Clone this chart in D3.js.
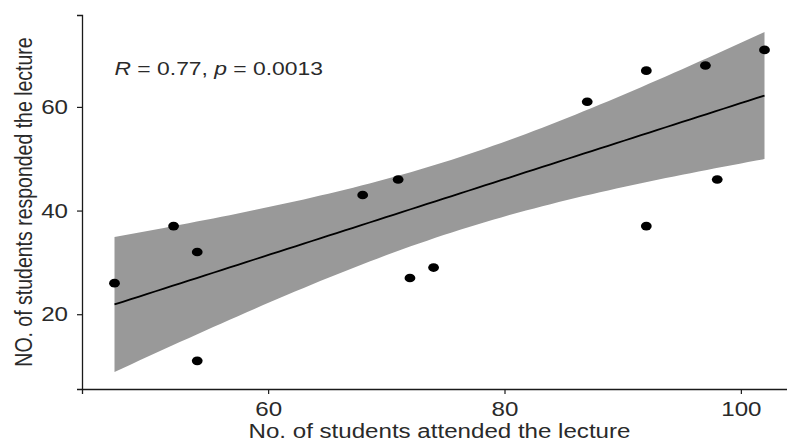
<!DOCTYPE html>
<html>
<head>
<meta charset="utf-8">
<script src="https://cdn.jsdelivr.net/npm/d3@7"></script>
<style>
  html, body { margin: 0; padding: 0; background: #fff; }
  svg { display: block; }
  text { font-family: "Liberation Sans", Arial, Helvetica, sans-serif; }
</style>
</head>
<body>
<svg id="chart" width="787" height="444"></svg>
<script>
// Lecture attendance vs. responses, one point per lecture
const attended  = [47, 52, 54, 54, 68, 71, 72, 74, 87, 92, 92, 97, 98, 102];
const responded = [26, 37, 32, 11, 43, 46, 27, 29, 61, 67, 37, 68, 46, 71];

const xTicks = [60, 80, 100];
const yTicks = [20, 40, 60];

const xTitle = "No. of students attended the lecture";
const yTitle = "NO. of students responded the lecture";

// p-value of the Pearson test (from cor.test), shown beside R
const pValue = "0.0013";
// qt(0.975, df = 12) for the 95% band of the linear fit
const tCrit = 2.1788;

const stretch = 1.25; // horizontal glyph stretch of the figure
const svg = d3.select("#chart");

// ---- linear fit and confidence band ----
const n = attended.length;
const mx = d3.mean(attended), my = d3.mean(responded);
let sxx = 0, sxy = 0, syy = 0;
for (let i = 0; i < n; i++) {
  const dx = attended[i] - mx, dy = responded[i] - my;
  sxx += dx * dx; sxy += dx * dy; syy += dy * dy;
}
const slope = sxy / sxx;
const intercept = my - slope * mx;
const rValue = sxy / Math.sqrt(sxx * syy);
const sigma = Math.sqrt((syy - sxy * sxy / sxx) / (n - 2));

const [xMin, xMax] = d3.extent(attended);
const fit = d3.range(80).map(k => {
  const xv = xMin + (xMax - xMin) * k / 79;
  const yhat = intercept + slope * xv;
  const se = sigma * Math.sqrt(1 / n + (xv - mx) * (xv - mx) / sxx);
  return { x: xv, y: yhat, lo: yhat - tCrit * se, hi: yhat + tCrit * se };
});

// ---- scales with 5% padding on each side ----
const pad = (lo, hi) => { const d = (hi - lo) * 0.05; return [lo - d, hi + d]; };
const xDom = pad(xMin, xMax);
const yDom = pad(
  Math.min(d3.min(responded), d3.min(fit, d => d.lo)),
  Math.max(d3.max(responded), d3.max(fit, d => d.hi))
);

const plotL = 82, plotR = 797, plotT = 15, plotB = 389;
const x = d3.scaleLinear().domain(xDom).range([plotL, plotR]);
const y = d3.scaleLinear().domain(yDom).range([plotB, plotT]);

// ---- confidence ribbon ----
svg.append("path")
  .datum(fit)
  .attr("fill", "#999999")
  .attr("d", d3.area().x(d => x(d.x)).y0(d => y(d.lo)).y1(d => y(d.hi)));

// ---- fitted line ----
svg.append("path")
  .datum(fit)
  .attr("fill", "none")
  .attr("stroke", "#000")
  .attr("stroke-width", 1.8)
  .attr("d", d3.line().x(d => x(d.x)).y(d => y(d.y)));

// ---- points ----
svg.append("g")
  .selectAll("ellipse")
  .data(attended.map((a, i) => [a, responded[i]]))
  .join("ellipse")
  .attr("cx", d => x(d[0]))
  .attr("cy", d => y(d[1]))
  .attr("rx", 5.4)
  .attr("ry", 4.3)
  .attr("fill", "#000");

// ---- axes ----
const axisColor = "#1a1a1a";
const tickFont = 19.3;

const gx = svg.append("g")
  .attr("transform", `translate(0,${plotB})`)
  .call(d3.axisBottom(x).tickValues(xTicks).tickSizeOuter(0).tickSize(5).tickFormat(d3.format("d")));
gx.select(".domain").attr("stroke", axisColor).attr("stroke-width", 1.3);
gx.selectAll(".tick line").attr("stroke", axisColor).attr("stroke-width", 1.2);
gx.selectAll(".tick text")
  .attr("x", null).attr("y", null).attr("dy", null)
  .attr("transform", `translate(0,26.5) scale(${stretch},1)`)
  .attr("fill", "#2a2a2a")
  .attr("font-size", tickFont)
  .attr("font-family", "Liberation Sans, Arial, sans-serif");

const gy = svg.append("g")
  .attr("transform", `translate(${plotL},0)`)
  .call(d3.axisLeft(y).tickValues(yTicks).tickSizeOuter(0).tickSize(5).tickFormat(d3.format("d")));
gy.select(".domain").attr("stroke", axisColor).attr("stroke-width", 1.3);
gy.selectAll(".tick line").attr("stroke", axisColor).attr("stroke-width", 1.2);
gy.selectAll(".tick text")
  .attr("x", null).attr("y", null)
  .attr("dy", "0.35em")
  .attr("text-anchor", "end")
  .attr("transform", `translate(-14,0) scale(${stretch},1)`)
  .attr("fill", "#2a2a2a")
  .attr("font-size", tickFont)
  .attr("font-family", "Liberation Sans, Arial, sans-serif");

// ---- axis titles ----
svg.append("text")
  .attr("transform", `translate(${(plotL + plotR) / 2},438) scale(${stretch},1)`)
  .attr("text-anchor", "middle")
  .attr("font-size", 19.3)
  .attr("fill", "#2a2a2a")
  .text(xTitle);

svg.append("text")
  .attr("transform", `translate(32,${(plotT + plotB) / 2}) scale(${stretch},1) rotate(-90)`)
  .attr("text-anchor", "middle")
  .attr("font-size", 19.5)
  .attr("fill", "#2a2a2a")
  .text(yTitle);

// ---- correlation label at the left of the data ----
const lab = svg.append("text")
  .attr("transform", `translate(${x(xMin)},75) scale(${stretch},1)`)
  .attr("font-size", 18.3)
  .attr("fill", "#2a2a2a");
lab.append("tspan").attr("font-style", "italic").text("R");
lab.append("tspan").text(` = ${rValue.toFixed(2)}, `);
lab.append("tspan").attr("font-style", "italic").text("p");
lab.append("tspan").text(` = ${pValue}`);
</script>
</body>
</html>
